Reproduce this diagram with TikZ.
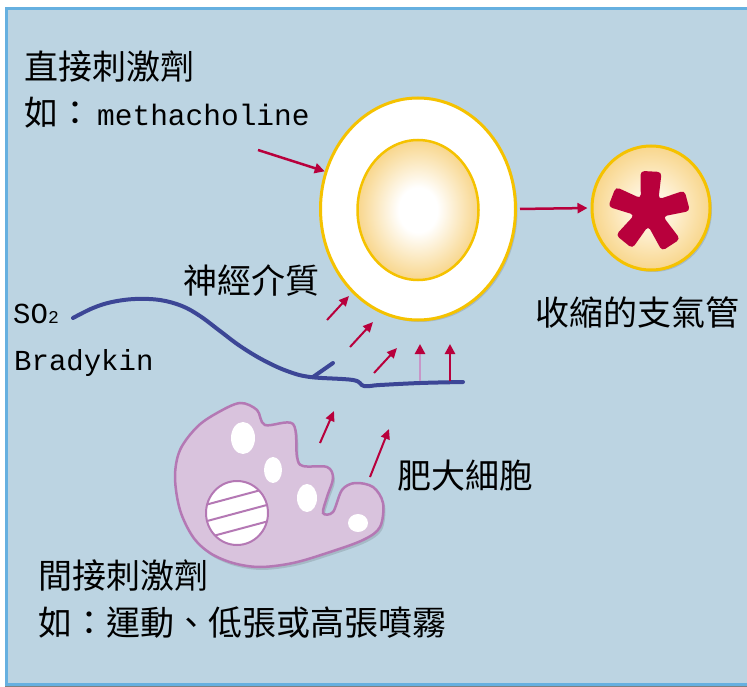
\documentclass[tikz,border=0pt]{standalone}
\usepackage{fontspec}
\newfontfamily\zhfont{Noto Sans CJK TC}
\setmonofont{Liberation Mono}
\usetikzlibrary{arrows.meta,shapes.geometric,shadows}

\definecolor{bgblue}{RGB}{188,212,226}
\definecolor{frameblue}{RGB}{102,176,224}
\definecolor{ringyellow}{RGB}{245,194,0}
\definecolor{lumenedge}{RGB}{248,214,140}
\definecolor{tubemid}{RGB}{253,236,200}
\definecolor{crimson}{RGB}{184,0,60}
\definecolor{shaftpink}{RGB}{200,150,200}
\definecolor{nerveblue}{RGB}{60,70,150}
\definecolor{cellfill}{RGB}{217,195,221}
\definecolor{cellline}{RGB}{180,120,180}

\pgfdeclareradialshading{lumenglow}{\pgfpoint{0bp}{0bp}}{color(0bp)=(white); color(8bp)=(white); color(25bp)=(lumenedge); color(50bp)=(lumenedge)}
\pgfdeclareradialshading{tubeglow}{\pgfpoint{0bp}{0bp}}{color(0bp)=(white); color(12bp)=(tubemid); color(25bp)=(lumenedge); color(50bp)=(lumenedge)}

\tikzset{
  zh/.style={font=\zhfont\fontsize{34}{34}\selectfont, inner sep=0pt, anchor=base west},
  en/.style={font=\ttfamily\fontsize{29}{29}\selectfont, inner sep=0pt, anchor=base west},
  ring/.style={ellipse, draw=ringyellow, inner sep=0pt},
  stim/.style={draw=crimson, line width=2.5pt, -{Triangle[length=10pt,width=10pt,color=crimson]}},
  release/.style={draw=crimson, line width=2pt, -{Triangle[length=10pt,width=9pt]}},
  nerve/.style={draw=nerveblue, line width=4pt, line cap=round, line join=round},
  cell/.style={fill=cellfill, draw=cellline, line width=2.5pt}
}

\begin{document}
\begin{tikzpicture}[x=1pt,y=-1pt]
\useasboundingbox (0,0) rectangle (747,687);
\fill[bgblue] (5,7) rectangle (747,686);
\draw[frameblue,line width=3pt] (747,8.5) -- (6.5,8.5) -- (6.5,684.5) -- (747,684.5);
\draw[gray,line width=1pt] (5,686.5) -- (747,686.5);

% labels
\node[zh] (direct) at (24,80) {直接刺激劑};
\node[zh] (directeg) at (24,126) {如：\hspace{5pt}{\ttfamily\fontsize{29.5}{30}\selectfont methacholine}};
\node[zh] (transmitter) at (183,293) {神經介質};
\node[en] (so) at (13,323) {SO{\fontsize{18}{18}\selectfont 2}};
\node[en] (brady) at (14,370) {Bradykin};
\node[zh] (mast) at (397,488) {肥大細胞};
\node[zh] (contracted) at (535,325) {收縮的支氣管};
\node[zh] (indirect) at (38,588) {間接刺激劑};
\node[zh] (indirecteg) at (38,635) {如：運動、低張或高張噴霧};

% airway and bronchus
\node[ring, line width=3pt, fill=white, minimum width=195pt, minimum height=222pt,
  drop shadow={shadow xshift=2pt, shadow yshift=-2pt, fill=black, opacity=0.12}] (airway) at (418,209) {};
\node[ring, line width=2.5pt, shade, shading=lumenglow, minimum width=121pt, minimum height=140pt] (lumen) at (418,210) {};
\node[ring, line width=3pt, shade, shading=tubeglow, minimum width=118pt, minimum height=124pt,
  drop shadow={shadow xshift=2pt, shadow yshift=-2pt, fill=black, opacity=0.12}] (bronchus) at (651,208) {};
\fill[crimson, shift={(bronchus.center)}, shift={(-2,3)}, rounded corners=4pt]
  (-21:15pt) \foreach \a in {15,87,159,231} { -- (\a-15:41pt) -- (\a+15:41pt) -- (\a+36:15pt) }
  -- (288:42pt) -- (318:42pt) -- cycle;
\draw[stim, shorten <=3pt, shorten >=3pt] (airway.east) -- (bronchus.west);

% nerve
\draw[nerve] plot[smooth, tension=0.6] coordinates {(73,318) (93,308) (112,302) (135,299) (160,300)
  (182,306) (200,316) (220,331) (240,346) (263,360) (287,371) (310,377) (353,380) (364,386)
  (380,385) (420,383) (463,382)};
\draw[nerve] (313,377) -- (333,363);

% stimuli
\coordinate (d0) at (258,150);
\draw[stim] (d0) -- (airway.158);
\coordinate (n1) at (327,320); \coordinate (m1) at (349,296);
\coordinate (n2) at (350,347); \coordinate (m2) at (373,322);
\coordinate (n3) at (374,373); \coordinate (m3) at (397,348);
\coordinate (n4) at (420,381); \coordinate (m4) at (420,344);
\coordinate (n5) at (450,381); \coordinate (m5) at (450,344);
\foreach \i in {1,2,3} \draw[release] (n\i) -- (m\i);
\draw[stim, draw=shaftpink] (n4) -- (m4);
\draw[stim] (n5) -- (m5);

% mast cell
\filldraw[cell, drop shadow={shadow xshift=2pt, shadow yshift=-3pt, fill=black, opacity=0.12}]
  plot[smooth cycle, tension=0.55] coordinates {(240,403) (257,410) (265,425) (293,424) (297,457)
  (303,466) (327,467) (333,478) (327,497) (323,513) (333,512) (342,490) (355,483) (373,487)
  (383,503) (380,527) (363,540) (327,553) (293,563) (260,567) (233,563) (210,553) (193,537)
  (180,510) (175,477) (180,450) (197,427) (217,413)};
\foreach \gx/\gy/\rx/\ry in {243/438/12/16, 273/470/9/13, 307/498/10/14, 358/523/10/9}
  \fill[white] (\gx,\gy) ellipse ({\rx} and {\ry});
\filldraw[fill=white, draw=cellline, line width=2pt] (237,513) ellipse (31 and 32);
\begin{scope}
  \clip (237,513) ellipse (31 and 32);
  \foreach \d in {-16,0,16}
    \draw[cellline, line width=2pt, rotate around={15:(237,513)}] (197,513+\d) -- (277,513+\d);
\end{scope}
\coordinate (c1) at (320,443); \coordinate (r1) at (334,411);
\coordinate (c2) at (370,477); \coordinate (r2) at (389,429);
\draw[release] (c1) -- (r1);
\draw[release] (c2) -- (r2);
\end{tikzpicture}
\end{document}
